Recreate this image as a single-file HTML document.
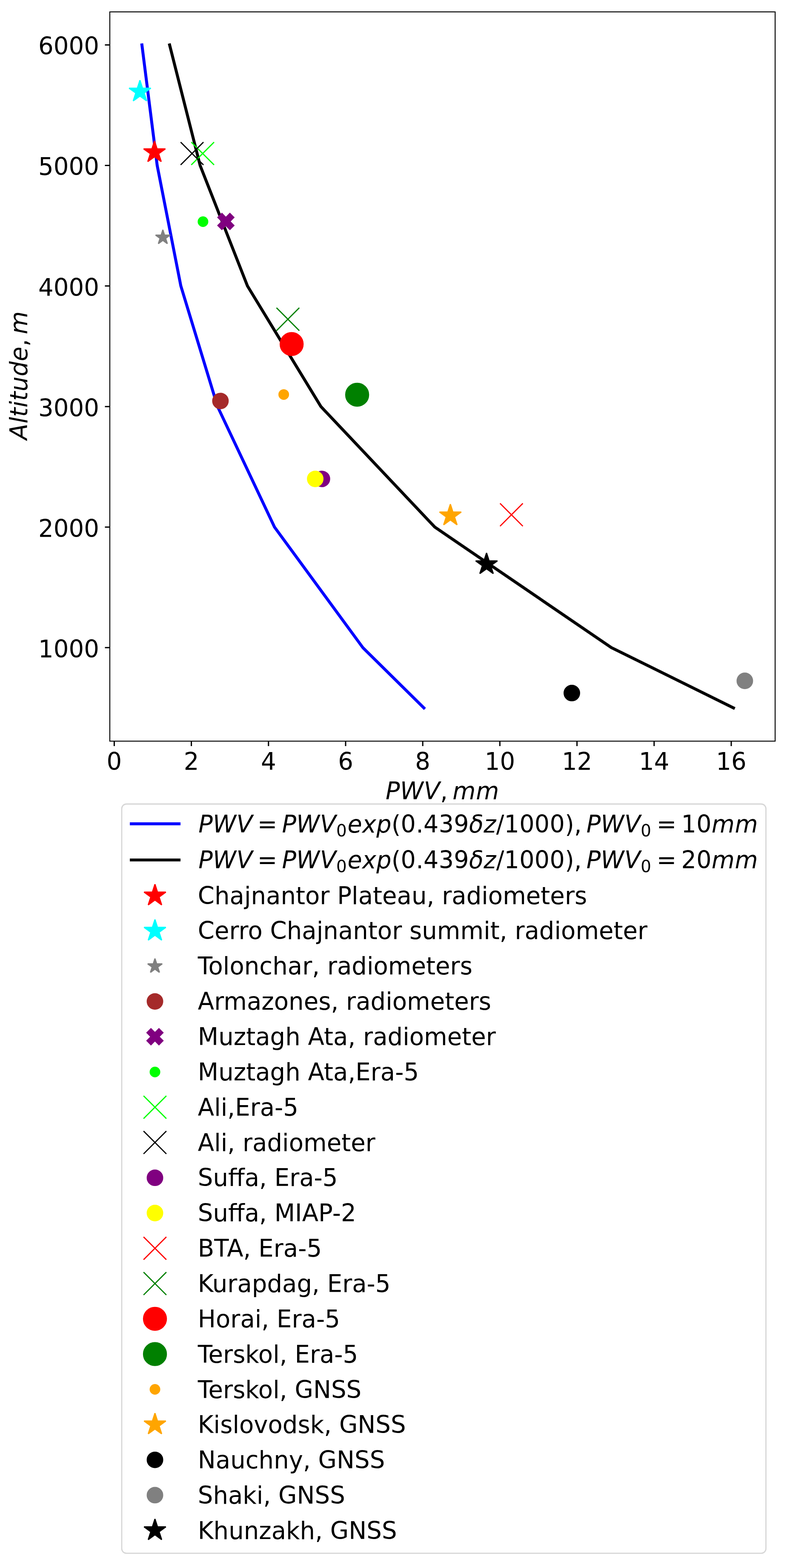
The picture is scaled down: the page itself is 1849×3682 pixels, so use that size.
<!DOCTYPE html>
<html><head><meta charset="utf-8"><title>PWV vs Altitude</title>
<style>html,body{margin:0;padding:0;background:#fff;}svg{display:block;}</style>
</head><body>
<svg width="1849" height="3682" viewBox="0 0 1849 3682"><rect x="0" y="0" width="1849" height="3682" fill="#fff"/>
<polyline points="995.85,1662.34 852.48,1520.80 644.95,1237.72 511.15,954.64 424.90,671.56 369.29,388.48 333.44,105.40" fill="none" stroke="#0000ff" stroke-width="6.944" stroke-linejoin="round" stroke-linecap="square"/>
<polyline points="1723.29,1662.34 1436.56,1520.80 1021.49,1237.72 753.90,954.64 581.39,671.56 470.18,388.48 398.48,105.40" fill="none" stroke="#000000" stroke-width="6.944" stroke-linejoin="round" stroke-linecap="square"/>
<polygon points="363.00,330.99 356.98,349.52 337.51,349.52 353.26,360.96 347.24,379.49 363.00,368.04 378.76,379.49 372.74,360.96 388.49,349.52 369.02,349.52" fill="#ff0000" stroke="#ff0000" stroke-width="2.778" stroke-linejoin="bevel"/>
<polygon points="328.80,188.49 322.78,207.02 303.31,207.02 319.06,218.46 313.04,236.99 328.80,225.54 344.56,236.99 338.54,218.46 354.29,207.02 334.82,207.02" fill="#00ffff" stroke="#00ffff" stroke-width="2.778" stroke-linejoin="bevel"/>
<polygon points="382.60,539.68 378.58,552.06 365.56,552.06 376.09,559.71 372.07,572.09 382.60,564.44 393.13,572.09 389.11,559.71 399.64,552.06 386.62,552.06" fill="#808080" stroke="#808080" stroke-width="2.778" stroke-linejoin="bevel"/>
<circle cx="517.90" cy="941.60" r="18.06" fill="#a52a2a" stroke="#a52a2a" stroke-width="2.778"/>
<polygon points="521.33,501.25 530.70,510.62 540.08,501.25 549.45,510.62 540.08,520.00 549.45,529.38 540.08,538.75 530.70,529.38 521.33,538.75 511.95,529.38 521.33,520.00 511.95,510.62" fill="#800080" stroke="#800080" stroke-width="2.778" stroke-linejoin="miter"/>
<circle cx="476.90" cy="520.50" r="11.11" fill="#00ff00" stroke="#00ff00" stroke-width="2.778"/>
<path d="M449.39,333.69L503.01,387.31M449.39,387.31L503.01,333.69" stroke="#00ff00" stroke-width="2.778" stroke-linecap="butt" fill="none"/>
<path d="M424.39,333.69L478.01,387.31M424.39,387.31L478.01,333.69" stroke="#000000" stroke-width="2.778" stroke-linecap="butt" fill="none"/>
<circle cx="756.30" cy="1124.60" r="18.06" fill="#800080" stroke="#800080" stroke-width="2.778"/>
<circle cx="740.60" cy="1124.60" r="18.06" fill="#ffff00" stroke="#ffff00" stroke-width="2.778"/>
<path d="M1174.79,1181.99L1228.41,1235.61M1174.79,1235.61L1228.41,1181.99" stroke="#ff0000" stroke-width="2.778" stroke-linecap="butt" fill="none"/>
<path d="M649.59,722.79L703.21,776.41M649.59,776.41L703.21,722.79" stroke="#008000" stroke-width="2.778" stroke-linecap="butt" fill="none"/>
<circle cx="685.20" cy="807.90" r="26.81" fill="#ff0000" stroke="#ff0000" stroke-width="2.778"/>
<circle cx="839.10" cy="926.90" r="26.81" fill="#008000" stroke="#008000" stroke-width="2.778"/>
<circle cx="666.60" cy="926.40" r="11.11" fill="#ffa500" stroke="#ffa500" stroke-width="2.778"/>
<polygon points="1058.10,1183.89 1052.08,1202.42 1032.61,1202.42 1048.36,1213.86 1042.34,1232.39 1058.10,1220.94 1073.86,1232.39 1067.84,1213.86 1083.59,1202.42 1064.12,1202.42" fill="#ffa500" stroke="#ffa500" stroke-width="2.778" stroke-linejoin="bevel"/>
<circle cx="1343.50" cy="1627.40" r="18.06" fill="#000000" stroke="#000000" stroke-width="2.778"/>
<circle cx="1749.90" cy="1598.70" r="18.06" fill="#808080" stroke="#808080" stroke-width="2.778"/>
<polygon points="1143.10,1298.49 1137.08,1317.02 1117.61,1317.02 1133.36,1328.46 1127.34,1346.99 1143.10,1335.54 1158.86,1346.99 1152.84,1328.46 1168.59,1317.02 1149.12,1317.02" fill="#000000" stroke="#000000" stroke-width="2.778" stroke-linejoin="bevel"/>
<rect x="258.0" y="27.9" width="1563.10" height="1712.50" fill="none" stroke="#000" stroke-width="2.222"/>
<path d="M268.40,1740.40V1751.90M449.60,1740.40V1751.90M630.80,1740.40V1751.90M812.00,1740.40V1751.90M993.20,1740.40V1751.90M1174.40,1740.40V1751.90M1355.60,1740.40V1751.90M1536.80,1740.40V1751.90M1718.00,1740.40V1751.90M258.00,1520.80H246.50M258.00,1237.72H246.50M258.00,954.64H246.50M258.00,671.56H246.50M258.00,388.48H246.50M258.00,105.40H246.50" stroke="#000" stroke-width="3.000" fill="none"/>
<text transform="translate(268.40 1808.30) scale(1.01 1.024)" text-anchor="middle" style="font-family:'DejaVu Sans',sans-serif;font-size:55.556px">0</text>
<text transform="translate(449.60 1808.30) scale(1.01 1.024)" text-anchor="middle" style="font-family:'DejaVu Sans',sans-serif;font-size:55.556px">2</text>
<text transform="translate(630.80 1808.30) scale(1.01 1.024)" text-anchor="middle" style="font-family:'DejaVu Sans',sans-serif;font-size:55.556px">4</text>
<text transform="translate(812.00 1808.30) scale(1.01 1.024)" text-anchor="middle" style="font-family:'DejaVu Sans',sans-serif;font-size:55.556px">6</text>
<text transform="translate(993.20 1808.30) scale(1.01 1.024)" text-anchor="middle" style="font-family:'DejaVu Sans',sans-serif;font-size:55.556px">8</text>
<text transform="translate(1174.40 1808.30) scale(1.01 1.024)" text-anchor="middle" style="font-family:'DejaVu Sans',sans-serif;font-size:55.556px">10</text>
<text transform="translate(1355.60 1808.30) scale(1.01 1.024)" text-anchor="middle" style="font-family:'DejaVu Sans',sans-serif;font-size:55.556px">12</text>
<text transform="translate(1536.80 1808.30) scale(1.01 1.024)" text-anchor="middle" style="font-family:'DejaVu Sans',sans-serif;font-size:55.556px">14</text>
<text transform="translate(1718.00 1808.30) scale(1.01 1.024)" text-anchor="middle" style="font-family:'DejaVu Sans',sans-serif;font-size:55.556px">16</text>
<text transform="translate(232.90 1543.80) scale(1.01 1.024)" text-anchor="end" style="font-family:'DejaVu Sans',sans-serif;font-size:55.556px">1000</text>
<text transform="translate(232.90 1260.72) scale(1.01 1.024)" text-anchor="end" style="font-family:'DejaVu Sans',sans-serif;font-size:55.556px">2000</text>
<text transform="translate(232.90 977.64) scale(1.01 1.024)" text-anchor="end" style="font-family:'DejaVu Sans',sans-serif;font-size:55.556px">3000</text>
<text transform="translate(232.90 694.56) scale(1.01 1.024)" text-anchor="end" style="font-family:'DejaVu Sans',sans-serif;font-size:55.556px">4000</text>
<text transform="translate(232.90 411.48) scale(1.01 1.024)" text-anchor="end" style="font-family:'DejaVu Sans',sans-serif;font-size:55.556px">5000</text>
<text transform="translate(232.90 128.40) scale(1.01 1.024)" text-anchor="end" style="font-family:'DejaVu Sans',sans-serif;font-size:55.556px">6000</text>
<g transform="translate(906.00 1876.80) scale(1 1.024)"><text style="font-family:'DejaVu Sans',sans-serif"><tspan x="0.00" y="0.00" style="font-style:oblique;font-size:55.556px">P</tspan><tspan x="34.00" y="0.00" style="font-style:oblique;font-size:55.556px">W</tspan><tspan x="89.76" y="0.00" style="font-style:oblique;font-size:55.556px">V</tspan><tspan x="128.33" y="0.00" style="font-size:55.556px">,</tspan><tspan x="157.24" y="0.00" style="font-style:oblique;font-size:55.556px">m</tspan><tspan x="212.17" y="0.00" style="font-style:oblique;font-size:55.556px">m</tspan></text></g>
<g transform="translate(64.30 1032.80) rotate(-90) scale(1 1.024)"><text style="font-family:'DejaVu Sans',sans-serif"><tspan x="0.00" y="0.00" style="font-style:oblique;font-size:55.556px">A</tspan><tspan x="38.35" y="0.00" style="font-style:oblique;font-size:55.556px">l</tspan><tspan x="53.92" y="0.00" style="font-style:oblique;font-size:55.556px">t</tspan><tspan x="75.90" y="0.00" style="font-style:oblique;font-size:55.556px">i</tspan><tspan x="91.47" y="0.00" style="font-style:oblique;font-size:55.556px">t</tspan><tspan x="113.45" y="0.00" style="font-style:oblique;font-size:55.556px">u</tspan><tspan x="148.98" y="0.00" style="font-style:oblique;font-size:55.556px">d</tspan><tspan x="184.56" y="0.00" style="font-style:oblique;font-size:55.556px">e</tspan><tspan x="219.05" y="0.00" style="font-size:55.556px">,</tspan><tspan x="247.79" y="0.00" style="font-style:oblique;font-size:55.556px">m</tspan></text></g>
<rect x="286.0" y="1888.0" width="1513.50" height="1759.40" rx="11.11" ry="11.11" fill="#fff" stroke="#d6d6d6" stroke-width="2.778"/>
<path d="M308.50,1934.50H420.61" stroke="#0000ff" stroke-width="6.944" stroke-linecap="square"/>
<g transform="translate(466.20 1954.90) scale(1 1.024)"><text style="font-family:'DejaVu Sans',sans-serif"><tspan x="0.00" y="0.00" style="font-style:oblique;font-size:55.556px">P</tspan><tspan x="33.79" y="0.00" style="font-style:oblique;font-size:55.556px">W</tspan><tspan x="89.19" y="0.00" style="font-style:oblique;font-size:55.556px">V</tspan><tspan x="138.44" y="0.00" style="font-size:55.556px">=</tspan><tspan x="196.31" y="0.00" style="font-style:oblique;font-size:55.556px">P</tspan><tspan x="230.10" y="0.00" style="font-style:oblique;font-size:55.556px">W</tspan><tspan x="285.50" y="0.00" style="font-style:oblique;font-size:55.556px">V</tspan><tspan x="323.83" y="9.11" style="font-size:38.889px">0</tspan><tspan x="350.32" y="0.00" style="font-style:oblique;font-size:55.556px">e</tspan><tspan x="384.79" y="0.00" style="font-style:oblique;font-size:55.556px">x</tspan><tspan x="417.95" y="0.00" style="font-style:oblique;font-size:55.556px">p</tspan><tspan x="453.52" y="0.00" style="font-size:55.556px">(</tspan><tspan x="475.38" y="0.00" style="font-size:55.556px">0</tspan><tspan x="511.03" y="0.00" style="font-size:55.556px">.</tspan><tspan x="528.84" y="0.00" style="font-size:55.556px">4</tspan><tspan x="564.49" y="0.00" style="font-size:55.556px">3</tspan><tspan x="600.14" y="0.00" style="font-size:55.556px">9</tspan><tspan x="635.80" y="0.00" style="font-style:oblique;font-size:55.556px">δ</tspan><tspan x="670.08" y="0.00" style="font-style:oblique;font-size:55.556px">z</tspan><tspan x="699.49" y="0.00" style="font-size:55.556px">/</tspan><tspan x="718.37" y="0.00" style="font-size:55.556px">1</tspan><tspan x="754.02" y="0.00" style="font-size:55.556px">0</tspan><tspan x="789.67" y="0.00" style="font-size:55.556px">0</tspan><tspan x="825.32" y="0.00" style="font-size:55.556px">0</tspan><tspan x="860.97" y="0.00" style="font-size:55.556px">)</tspan><tspan x="882.83" y="0.00" style="font-size:55.556px">,</tspan><tspan x="911.56" y="0.00" style="font-style:oblique;font-size:55.556px">P</tspan><tspan x="945.35" y="0.00" style="font-style:oblique;font-size:55.556px">W</tspan><tspan x="1000.75" y="0.00" style="font-style:oblique;font-size:55.556px">V</tspan><tspan x="1039.08" y="9.11" style="font-size:38.889px">0</tspan><tspan x="1076.49" y="0.00" style="font-size:55.556px">=</tspan><tspan x="1134.35" y="0.00" style="font-size:55.556px">1</tspan><tspan x="1170.00" y="0.00" style="font-size:55.556px">0</tspan><tspan x="1205.65" y="0.00" style="font-style:oblique;font-size:55.556px">m</tspan><tspan x="1260.24" y="0.00" style="font-style:oblique;font-size:55.556px">m</tspan></text></g>
<path d="M308.50,2019.40H420.61" stroke="#000000" stroke-width="6.944" stroke-linecap="square"/>
<g transform="translate(466.20 2039.00) scale(1 1.024)"><text style="font-family:'DejaVu Sans',sans-serif"><tspan x="0.00" y="0.00" style="font-style:oblique;font-size:55.556px">P</tspan><tspan x="33.79" y="0.00" style="font-style:oblique;font-size:55.556px">W</tspan><tspan x="89.19" y="0.00" style="font-style:oblique;font-size:55.556px">V</tspan><tspan x="138.44" y="0.00" style="font-size:55.556px">=</tspan><tspan x="196.31" y="0.00" style="font-style:oblique;font-size:55.556px">P</tspan><tspan x="230.10" y="0.00" style="font-style:oblique;font-size:55.556px">W</tspan><tspan x="285.50" y="0.00" style="font-style:oblique;font-size:55.556px">V</tspan><tspan x="323.83" y="9.11" style="font-size:38.889px">0</tspan><tspan x="350.32" y="0.00" style="font-style:oblique;font-size:55.556px">e</tspan><tspan x="384.79" y="0.00" style="font-style:oblique;font-size:55.556px">x</tspan><tspan x="417.95" y="0.00" style="font-style:oblique;font-size:55.556px">p</tspan><tspan x="453.52" y="0.00" style="font-size:55.556px">(</tspan><tspan x="475.38" y="0.00" style="font-size:55.556px">0</tspan><tspan x="511.03" y="0.00" style="font-size:55.556px">.</tspan><tspan x="528.84" y="0.00" style="font-size:55.556px">4</tspan><tspan x="564.49" y="0.00" style="font-size:55.556px">3</tspan><tspan x="600.14" y="0.00" style="font-size:55.556px">9</tspan><tspan x="635.80" y="0.00" style="font-style:oblique;font-size:55.556px">δ</tspan><tspan x="670.08" y="0.00" style="font-style:oblique;font-size:55.556px">z</tspan><tspan x="699.49" y="0.00" style="font-size:55.556px">/</tspan><tspan x="718.37" y="0.00" style="font-size:55.556px">1</tspan><tspan x="754.02" y="0.00" style="font-size:55.556px">0</tspan><tspan x="789.67" y="0.00" style="font-size:55.556px">0</tspan><tspan x="825.32" y="0.00" style="font-size:55.556px">0</tspan><tspan x="860.97" y="0.00" style="font-size:55.556px">)</tspan><tspan x="882.83" y="0.00" style="font-size:55.556px">,</tspan><tspan x="911.56" y="0.00" style="font-style:oblique;font-size:55.556px">P</tspan><tspan x="945.35" y="0.00" style="font-style:oblique;font-size:55.556px">W</tspan><tspan x="1000.75" y="0.00" style="font-style:oblique;font-size:55.556px">V</tspan><tspan x="1039.08" y="9.11" style="font-size:38.889px">0</tspan><tspan x="1076.49" y="0.00" style="font-size:55.556px">=</tspan><tspan x="1134.35" y="0.00" style="font-size:55.556px">2</tspan><tspan x="1170.00" y="0.00" style="font-size:55.556px">0</tspan><tspan x="1205.65" y="0.00" style="font-style:oblique;font-size:55.556px">m</tspan><tspan x="1260.24" y="0.00" style="font-style:oblique;font-size:55.556px">m</tspan></text></g>
<polygon points="364.06,2076.39 358.04,2094.92 338.56,2094.92 354.32,2106.36 348.30,2124.89 364.06,2113.44 379.81,2124.89 373.79,2106.36 389.55,2094.92 370.07,2094.92" fill="#ff0000" stroke="#ff0000" stroke-width="2.778" stroke-linejoin="bevel"/>
<text transform="translate(464.80 2122.60) scale(1.01 1.024)" style="font-family:'DejaVu Sans',sans-serif;font-size:55.556px">Chajnantor Plateau, radiometers</text>
<polygon points="364.06,2159.20 358.04,2177.72 338.56,2177.72 354.32,2189.17 348.30,2207.69 364.06,2196.24 379.81,2207.69 373.79,2189.17 389.55,2177.72 370.07,2177.72" fill="#00ffff" stroke="#00ffff" stroke-width="2.778" stroke-linejoin="bevel"/>
<text transform="translate(464.80 2205.45) scale(1.01 1.024)" style="font-family:'DejaVu Sans',sans-serif;font-size:55.556px">Cerro Chajnantor summit, radiometer</text>
<polygon points="364.06,2250.89 360.03,2263.27 347.02,2263.27 357.55,2270.92 353.52,2283.30 364.06,2275.65 374.59,2283.30 370.56,2270.92 381.10,2263.27 368.08,2263.27" fill="#808080" stroke="#808080" stroke-width="2.778" stroke-linejoin="bevel"/>
<text transform="translate(464.80 2288.30) scale(1.01 1.024)" style="font-family:'DejaVu Sans',sans-serif;font-size:55.556px">Tolonchar, radiometers</text>
<circle cx="364.06" cy="2351.61" r="18.06" fill="#a52a2a" stroke="#a52a2a" stroke-width="2.778"/>
<text transform="translate(464.80 2371.15) scale(1.01 1.024)" style="font-family:'DejaVu Sans',sans-serif;font-size:55.556px">Armazones, radiometers</text>
<polygon points="354.68,2415.67 364.06,2425.05 373.43,2415.67 382.81,2425.05 373.43,2434.42 382.81,2443.80 373.43,2453.17 364.06,2443.80 354.68,2453.17 345.31,2443.80 354.68,2434.42 345.31,2425.05" fill="#800080" stroke="#800080" stroke-width="2.778" stroke-linejoin="miter"/>
<text transform="translate(464.80 2454.00) scale(1.01 1.024)" style="font-family:'DejaVu Sans',sans-serif;font-size:55.556px">Muztagh Ata, radiometer</text>
<circle cx="364.06" cy="2517.22" r="11.11" fill="#00ff00" stroke="#00ff00" stroke-width="2.778"/>
<text transform="translate(464.80 2536.85) scale(1.01 1.024)" style="font-family:'DejaVu Sans',sans-serif;font-size:55.556px">Muztagh Ata,Era-5</text>
<path d="M337.25,2573.22L390.86,2626.84M337.25,2626.84L390.86,2573.22" stroke="#00ff00" stroke-width="2.778" stroke-linecap="butt" fill="none"/>
<text transform="translate(464.80 2619.70) scale(1.01 1.024)" style="font-family:'DejaVu Sans',sans-serif;font-size:55.556px">Ali,Era-5</text>
<path d="M337.25,2656.03L390.86,2709.64M337.25,2709.64L390.86,2656.03" stroke="#000000" stroke-width="2.778" stroke-linecap="butt" fill="none"/>
<text transform="translate(464.80 2702.55) scale(1.01 1.024)" style="font-family:'DejaVu Sans',sans-serif;font-size:55.556px">Ali, radiometer</text>
<circle cx="364.06" cy="2765.64" r="18.06" fill="#800080" stroke="#800080" stroke-width="2.778"/>
<text transform="translate(464.80 2785.40) scale(1.01 1.024)" style="font-family:'DejaVu Sans',sans-serif;font-size:55.556px">Suffa, Era-5</text>
<circle cx="364.06" cy="2848.44" r="18.06" fill="#ffff00" stroke="#ffff00" stroke-width="2.778"/>
<text transform="translate(464.80 2868.25) scale(1.01 1.024)" style="font-family:'DejaVu Sans',sans-serif;font-size:55.556px">Suffa, MIAP-2</text>
<path d="M337.25,2904.44L390.86,2958.06M337.25,2958.06L390.86,2904.44" stroke="#ff0000" stroke-width="2.778" stroke-linecap="butt" fill="none"/>
<text transform="translate(464.80 2951.10) scale(1.01 1.024)" style="font-family:'DejaVu Sans',sans-serif;font-size:55.556px">BTA, Era-5</text>
<path d="M337.25,2987.25L390.86,3040.86M337.25,3040.86L390.86,2987.25" stroke="#008000" stroke-width="2.778" stroke-linecap="butt" fill="none"/>
<text transform="translate(464.80 3033.95) scale(1.01 1.024)" style="font-family:'DejaVu Sans',sans-serif;font-size:55.556px">Kurapdag, Era-5</text>
<circle cx="364.06" cy="3096.86" r="26.81" fill="#ff0000" stroke="#ff0000" stroke-width="2.778"/>
<text transform="translate(464.80 3116.80) scale(1.01 1.024)" style="font-family:'DejaVu Sans',sans-serif;font-size:55.556px">Horai, Era-5</text>
<circle cx="364.06" cy="3179.66" r="26.81" fill="#008000" stroke="#008000" stroke-width="2.778"/>
<text transform="translate(464.80 3199.65) scale(1.01 1.024)" style="font-family:'DejaVu Sans',sans-serif;font-size:55.556px">Terskol, Era-5</text>
<circle cx="364.06" cy="3262.47" r="11.11" fill="#ffa500" stroke="#ffa500" stroke-width="2.778"/>
<text transform="translate(464.80 3282.50) scale(1.01 1.024)" style="font-family:'DejaVu Sans',sans-serif;font-size:55.556px">Terskol, GNSS</text>
<polygon points="364.06,3318.47 358.04,3336.99 338.56,3336.99 354.32,3348.44 348.30,3366.96 364.06,3355.51 379.81,3366.96 373.79,3348.44 389.55,3336.99 370.07,3336.99" fill="#ffa500" stroke="#ffa500" stroke-width="2.778" stroke-linejoin="bevel"/>
<text transform="translate(464.80 3365.35) scale(1.01 1.024)" style="font-family:'DejaVu Sans',sans-serif;font-size:55.556px">Kislovodsk, GNSS</text>
<circle cx="364.06" cy="3428.08" r="18.06" fill="#000000" stroke="#000000" stroke-width="2.778"/>
<text transform="translate(464.80 3448.20) scale(1.01 1.024)" style="font-family:'DejaVu Sans',sans-serif;font-size:55.556px">Nauchny, GNSS</text>
<circle cx="364.06" cy="3510.89" r="18.06" fill="#808080" stroke="#808080" stroke-width="2.778"/>
<text transform="translate(464.80 3531.05) scale(1.01 1.024)" style="font-family:'DejaVu Sans',sans-serif;font-size:55.556px">Shaki, GNSS</text>
<polygon points="364.06,3566.88 358.04,3585.41 338.56,3585.41 354.32,3596.85 348.30,3615.38 364.06,3603.93 379.81,3615.38 373.79,3596.85 389.55,3585.41 370.07,3585.41" fill="#000000" stroke="#000000" stroke-width="2.778" stroke-linejoin="bevel"/>
<text transform="translate(464.80 3613.90) scale(1.01 1.024)" style="font-family:'DejaVu Sans',sans-serif;font-size:55.556px">Khunzakh, GNSS</text></svg>
</body></html>
